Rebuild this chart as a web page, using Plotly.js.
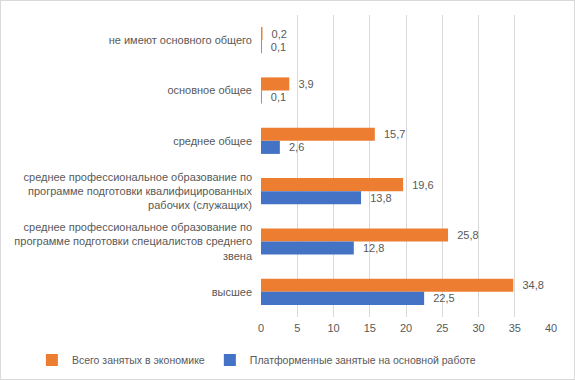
<!DOCTYPE html>
<html><head><meta charset="utf-8">
<script src="https://cdn.plot.ly/plotly-3.0.1.min.js"></script>
<style>body{margin:0;}#wrap{position:relative;width:575px;height:380px;}#frame{position:absolute;left:0;top:0;width:573px;height:378px;border:1px solid #d9d9d9;pointer-events:none;}</style>
</head><body>
<div id="wrap"><div id="chart" style="width:575px;height:380px;"></div><div id="frame"></div></div>
<script>
const categories = [
  "не имеют основного общего",
  "основное общее",
  "среднее общее",
  "среднее профессиональное образование по<br>программе подготовки квалифицированных<br>рабочих (служащих)",
  "среднее профессиональное образование по<br>программе подготовки специалистов среднего<br>звена",
  "высшее"
];
const totalEmployed = [0.2, 3.9, 15.7, 19.6, 25.8, 34.8];
const platformEmployed = [0.1, 0.1, 2.6, 13.8, 12.8, 22.5];
const seriesNames = ["Всего занятых в экономике", "Платформенные занятые на основной работе"];
const xTicks = [0, 5, 10, 15, 20, 25, 30, 35, 40];

const font = {family: "Liberation Sans, Arial, sans-serif", size: 11, color: "#595959"};
const traces = [
  {type: "bar", orientation: "h", name: seriesNames[0], y: categories, x: totalEmployed,
   marker: {color: "#ed7d31"}, texttemplate: "\u00a0\u00a0%{x:.1f}", textposition: "outside",
   textfont: font, cliponaxis: false},
  {type: "bar", orientation: "h", name: seriesNames[1], y: categories, x: platformEmployed,
   marker: {color: "#4472c4"}, texttemplate: "\u00a0\u00a0%{x:.1f}", textposition: "outside",
   textfont: font, cliponaxis: false}
];
const layout = {
  width: 575, height: 380,
  margin: {l: 261, r: 24, t: 15, b: 63, autoexpand: false},
  paper_bgcolor: "#ffffff", plot_bgcolor: "#ffffff",
  font: font,
  separators: ", ",
  barmode: "group", bargap: 0.48, bargroupgap: 0,
  showlegend: true,
  legend: {orientation: "h", x: -0.79, xanchor: "left", y: -0.142, yanchor: "middle",
           font: {family: font.family, size: 10.5, color: "#595959"}, traceorder: "normal", itemwidth: 30},
  xaxis: {range: [0, 40], tickvals: xTicks, showgrid: true, gridcolor: "#d9d9d9", gridwidth: 1,
          zeroline: false, showline: false, ticks: "", tickfont: font, fixedrange: true,
          ticklabelstandoff: 3, automargin: false},
  yaxis: {autorange: "reversed", type: "category", showgrid: false, zeroline: false,
          showline: false, ticks: "", tickfont: font, ticklabelstandoff: 8, automargin: false}
};
Plotly.newPlot("chart", traces, layout, {staticPlot: true, displayModeBar: false});
</script>
</body></html>
